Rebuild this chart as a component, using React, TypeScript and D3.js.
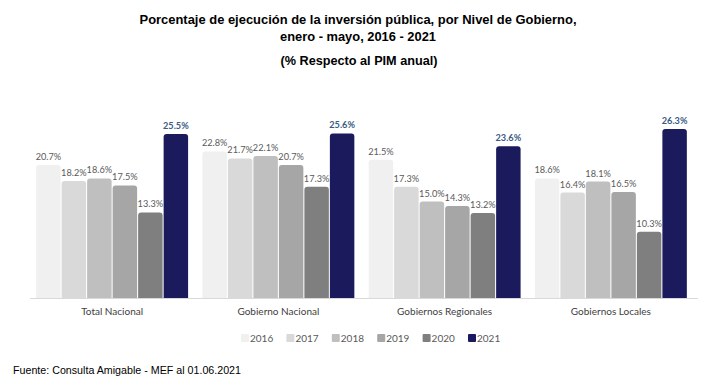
import React from "react";
import * as d3 from "d3";

const categories = ["Total Nacional", "Gobierno Nacional", "Gobiernos Regionales", "Gobiernos Locales"];
const years = ["2016", "2017", "2018", "2019", "2020", "2021"];
const values2016 = [20.7, 22.8, 21.5, 18.6];
const values2017 = [18.2, 21.7, 17.3, 16.4];
const values2018 = [18.6, 22.1, 15.0, 18.1];
const values2019 = [17.5, 20.7, 14.3, 16.5];
const values2020 = [13.3, 17.3, 13.2, 10.3];
const values2021 = [25.5, 25.6, 23.6, 26.3];
const seriesValues = [values2016, values2017, values2018, values2019, values2020, values2021];
const colors = ["#f0f0f0", "#d9d9d9", "#bfbfbf", "#a6a6a6", "#7f7f7f", "#1b1a5c"];

const titleLines = [
  "Porcentaje  de ejecución  de la inversión pública, por Nivel de Gobierno,",
  "enero  - mayo, 2016  - 2021",
];
const subtitle = "(%  Respecto  al PIM anual)";
const source = "Fuente: Consulta Amigable - MEF al 01.06.2021";

const W = 702;
const H = 390;
const baseY = 298;

export default function App() {
  // escalas
  const x0 = d3.scaleBand<string>().domain(categories).range([29, 694]).paddingInner(0.086).paddingOuter(0.043);
  const x1 = d3.scaleBand<string>().domain(years).range([0, x0.bandwidth()]).paddingInner(0.04);
  const y = d3.scaleLinear().domain([0, 30]).range([baseY, baseY - 30 * 6.43]);
  const legendX = d3.scalePoint<string>().domain(years).range([241, 468]);

  const titleFont = "'Liberation Sans', Arial, sans-serif";
  const chartFont = "Lato, 'Open Sans', sans-serif";
  const titleWidths = [437, 156];

  return (
    <svg width={W} height={H} style={{ position: "absolute", left: 0, top: 0, background: "#fff" }}>
      <rect width={W} height={H} fill="#fff" />
      {titleLines.map((t, i) => (
        <text
          key={i}
          x={358}
          y={24 + i * 17}
          textAnchor="middle"
          fontFamily={titleFont}
          fontWeight="bold"
          fontSize={13.5}
          textLength={titleWidths[i]}
          lengthAdjust="spacingAndGlyphs"
          fill="#000"
        >
          {t}
        </text>
      ))}
      <text x={359} y={65} textAnchor="middle" fontFamily={titleFont} fontWeight="bold" fontSize={13.5} textLength={157} lengthAdjust="spacingAndGlyphs" fill="#000">
        {subtitle}
      </text>

      {/* línea base */}
      <line x1={30} x2={698} y1={baseY + 0.5} y2={baseY + 0.5} stroke="#d9d9d9" strokeWidth={1} />

      {categories.map((cat, ci) => (
        <g key={cat} transform={`translate(${x0(cat)},0)`}>
          {years.map((yr, si) => {
            const v = seriesValues[si][ci];
            const bx = x1(yr) as number;
            const bw = x1.bandwidth();
            const top = y(v);
            const h = baseY - top;
            const r = 3;
            const path = `M${bx},${baseY} L${bx},${top + r} Q${bx},${top} ${bx + r},${top} L${bx + bw - r},${top} Q${bx + bw},${top} ${bx + bw},${top + r} L${bx + bw},${baseY} Z`;
            const last = si === years.length - 1;
            return (
              <g key={yr}>
                <path d={h > 0 ? path : ""} fill={colors[si]} />
                <text
                  x={bx + bw / 2}
                  y={top - 5}
                  textAnchor="middle"
                  fontFamily={chartFont}
                  fontSize={9.2}
                  fontWeight={last ? "bold" : "normal"}
                  fill={last ? "#3a5a82" : "#595959"}
                >
                  {v.toFixed(1)}%
                </text>
              </g>
            );
          })}
          <text x={x0.bandwidth() / 2} y={315} textAnchor="middle" fontFamily={chartFont} fontSize={10} fill="#404040">
            {cat}
          </text>
        </g>
      ))}

      {/* leyenda */}
      {years.map((yr, i) => (
        <g key={yr} transform={`translate(${legendX(yr)},0)`}>
          <rect x={0} y={334} width={8} height={8} rx={1} fill={colors[i]} />
          <text x={9} y={342} fontFamily={chartFont} fontSize={10} fill="#595959">
            {yr}
          </text>
        </g>
      ))}

      <text x={13} y={374} fontFamily="'Liberation Sans', Arial, sans-serif" fontSize={11} textLength={228} lengthAdjust="spacingAndGlyphs" fill="#000">
        {source}
      </text>
    </svg>
  );
}
